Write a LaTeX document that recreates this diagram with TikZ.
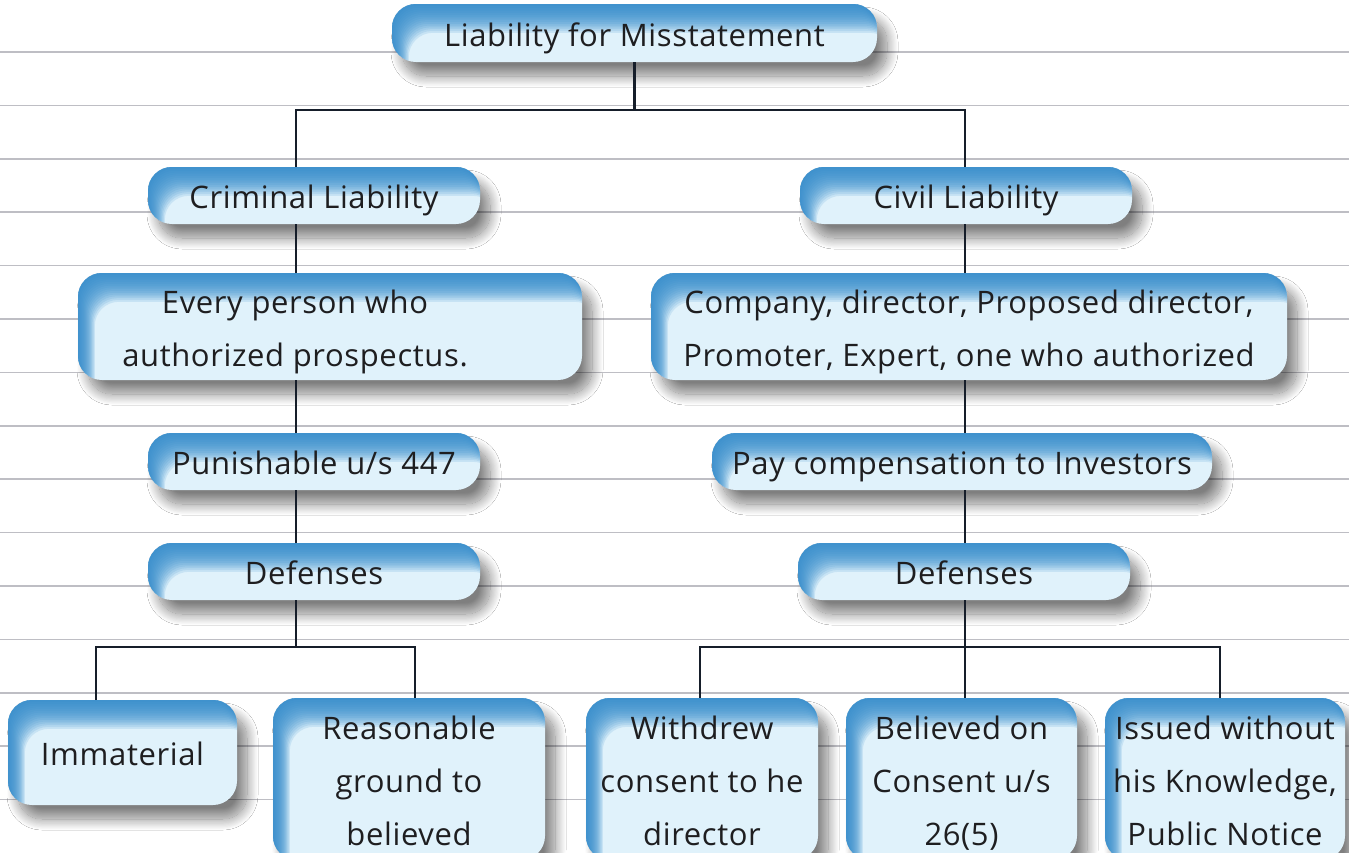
\documentclass[tikz,border=0pt]{standalone}
\usepackage{fontspec}
\setmainfont[LetterSpace=2]{Open Sans}
\usetikzlibrary{shadows.blur}

\definecolor{boxfill}{RGB}{224,242,251}
\definecolor{boxblue}{RGB}{52,140,204}
\definecolor{rule}{RGB}{190,190,196}
\definecolor{ink}{RGB}{30,30,32}
\definecolor{wire}{RGB}{22,30,42}

\tikzset{
  pill/.style={
    rectangle, rounded corners=24pt, fill=boxfill, text=ink,
    align=center, inner sep=2pt,
    font=\fontsize{31}{53}\selectfont,
    text height=26pt, text depth=0pt,
    blur shadow={shadow xshift=10pt, shadow yshift=-14pt,
                 shadow blur radius=11pt, shadow blur steps=20,
                 shadow opacity=50},
    path picture={
      \foreach \k in {1,...,16}{
        \fill[boxblue, opacity=0.14, even odd rule, rounded corners=24pt]
          ([shift={(-60pt,60pt)}]path picture bounding box.north west)
            rectangle ([shift={(60pt,-60pt)}]path picture bounding box.south east)
          ([shift={(1.05*\k pt,-1.8*\k pt)}]path picture bounding box.north west)
            rectangle ([shift={(1.05*\k pt,-1.8*\k pt)}]path picture bounding box.south east);
      }
    }
  },
  two lines/.style={text height=79pt},
  three lines/.style={text height=132pt},
  label text/.style={text=ink, align=center, inner sep=0pt,
    font=\fontsize{31}{53}\selectfont, text height=79pt, text depth=0pt},
  conn/.style={draw=wire, line width=2.4pt},
  ruled/.style={draw=rule, line width=1.6pt}
}

\begin{document}
\begin{tikzpicture}[x=1pt, y=-1pt]
  \useasboundingbox (0,0) rectangle (1349,852);
  \clip (0,0) rectangle (1349,852);
  \fill[white] (0,0) rectangle (1349,852);

  % notebook ruling
  \foreach \i in {0,...,14}{
    \draw[ruled] (0,52+53.4*\i) -- (1349,52+53.4*\i);
  }

  % junction points of the connector tree
  \coordinate (jA) at (0,110);
  \coordinate (tL) at (296,0);
  \coordinate (tR) at (965,0);
  \coordinate (bL1) at (96,647);
  \coordinate (bL2) at (415,647);
  \coordinate (bR1) at (700,647);
  \coordinate (bR3) at (1220,647);

  % boxes
  \node[pill, minimum width=485pt, minimum height=58pt] (top) at (634.5,33) {Liability for Misstatement};

  \node[pill, minimum width=332pt, minimum height=57pt] (crim) at (314,195.5) {Criminal Liability};
  \node[pill, minimum width=332pt, minimum height=57pt] (civil) at (966,195.5) {Civil Liability};

  \node[pill, minimum width=504pt, minimum height=107pt] (every) at (330,326.5) {};
  \node[label text] (everytext) at (295,326.5) {Every person who\\authorized prospectus.};
  \node[pill, two lines, minimum width=636pt, minimum height=107pt] (comp) at (969,326.5) {Company, director, Proposed director,\\Promoter, Expert, one who authorized};

  \node[pill, minimum width=332pt, minimum height=57pt] (pun) at (314,461.5) {Punishable u/s 447};
  \node[pill, minimum width=500pt, minimum height=57pt] (pay) at (962,461.5) {Pay compensation to Investors};

  \node[pill, minimum width=332pt, minimum height=57pt] (defL) at (314,571.5) {Defenses};
  \node[pill, minimum width=332pt, minimum height=57pt] (defR) at (964,571.5) {Defenses};

  \node[pill, minimum width=229pt, minimum height=105pt] (imm) at (122.5,752.5) {Immaterial};
  \node[pill, three lines, minimum width=272pt, minimum height=162pt] (reas) at (409,779) {Reasonable\\ground to\\believed};
  \node[pill, three lines, minimum width=232pt, minimum height=162pt] (with) at (702,779) {Withdrew\\consent to he\\director};
  \node[pill, three lines, minimum width=231pt, minimum height=162pt] (beli) at (961.5,779) {Believed on\\Consent u/s\\26(5)};
  \node[pill, three lines, minimum width=240pt, minimum height=162pt] (issu) at (1225,779) {Issued without\\his Knowledge,\\Public Notice};

  % connectors
  \draw[conn] (top.south) -- (top.south |- jA);
  \draw[conn] (crim.north -| tL) |- (jA -| tR) -- (civil.north -| tR);

  \draw[conn] (crim.south -| tL) -- (every.north -| tL);
  \draw[conn] (every.south -| tL) -- (pun.north -| tL);
  \draw[conn] (pun.south -| tL) -- (defL.north -| tL);
  \draw[conn] (defL.south -| tL) -- (tL |- bL1);
  \draw[conn] (imm.north -| bL1) |- (bL2) -- (reas.north -| bL2);

  \draw[conn] (civil.south -| tR) -- (comp.north -| tR);
  \draw[conn] (comp.south -| tR) -- (pay.north -| tR);
  \draw[conn] (pay.south -| tR) -- (defR.north -| tR);
  \draw[conn] (defR.south -| tR) -- (beli.north -| tR);
  \draw[conn] (with.north -| bR1) |- (bR3) -- (issu.north -| bR3);
\end{tikzpicture}
\end{document}
